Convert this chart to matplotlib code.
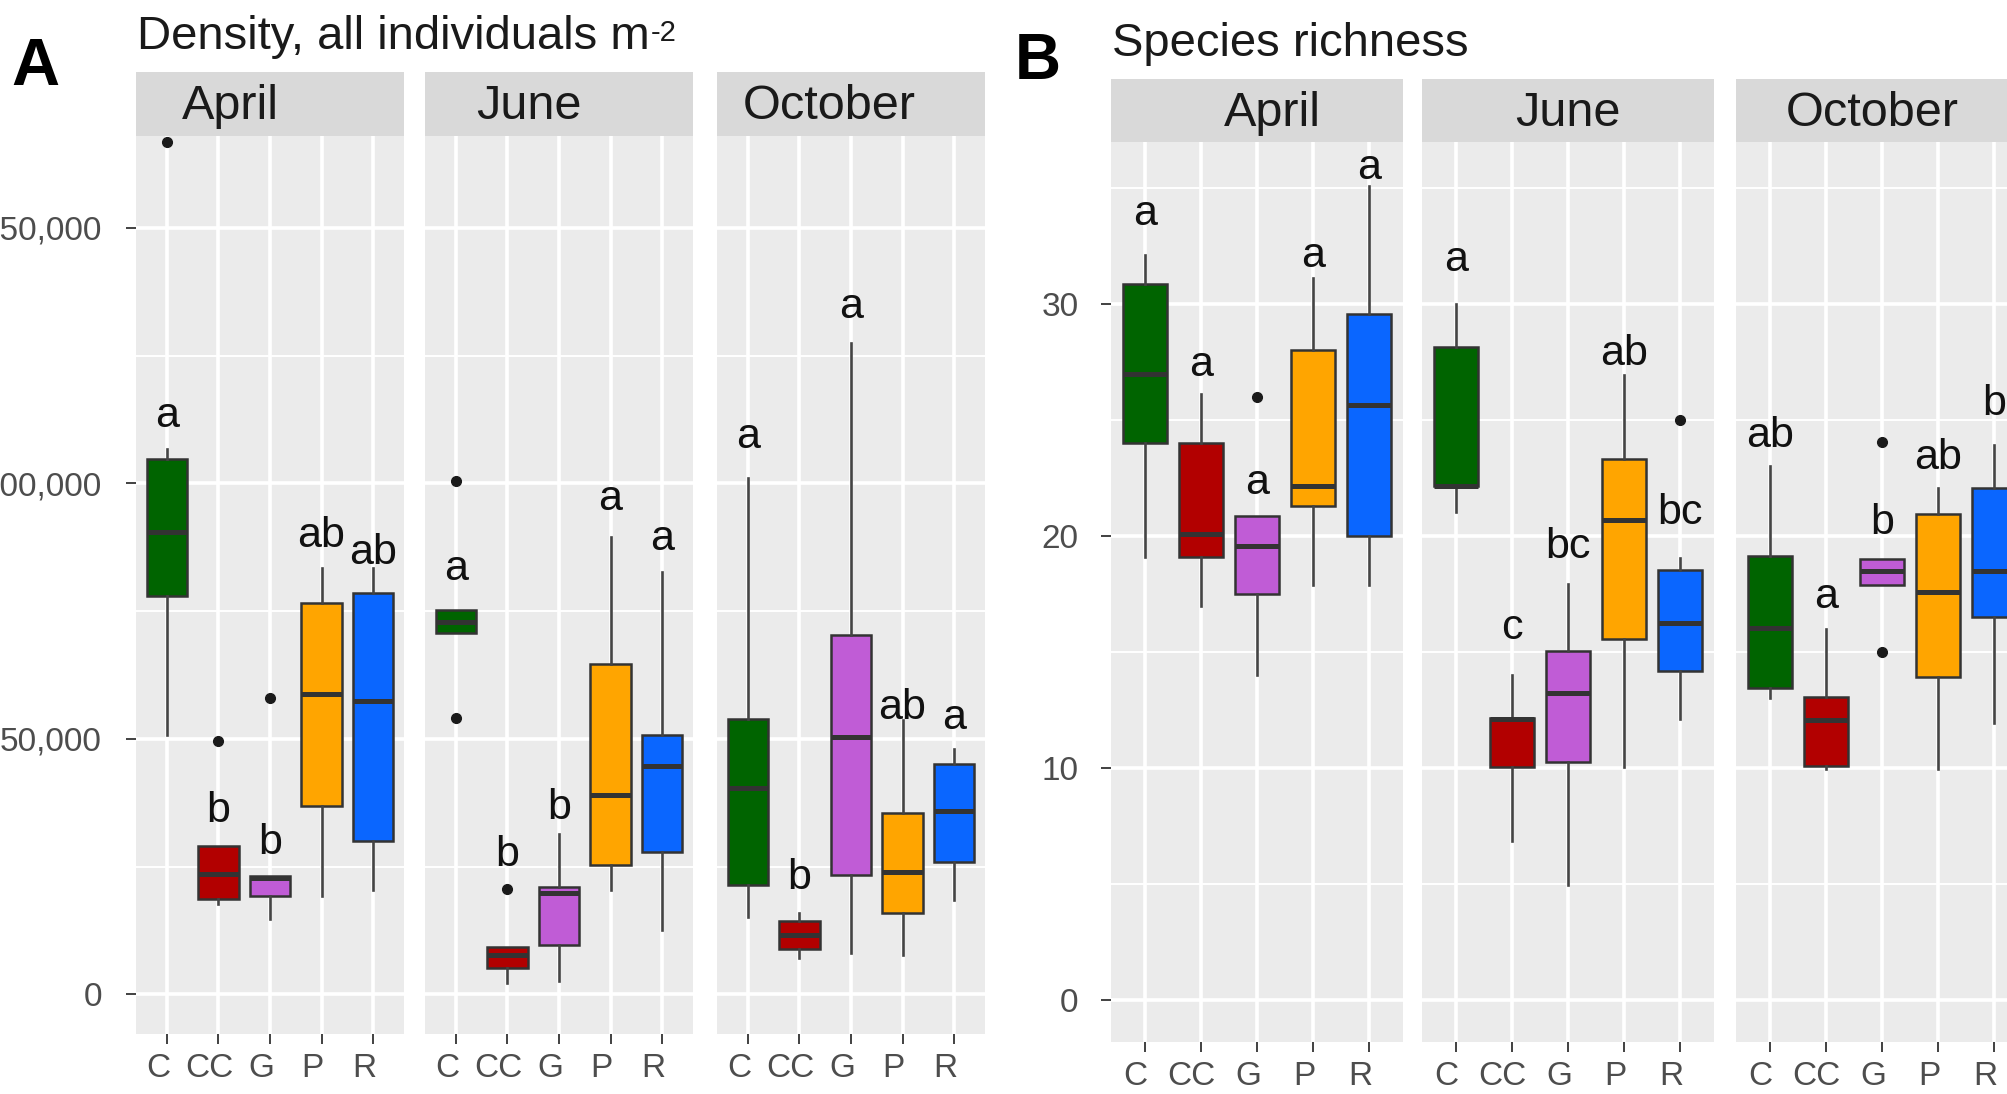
"""
Density and species richness by treatment and month (boxplots, ggplot look)
"""
import matplotlib
matplotlib.use('Agg')
from matplotlib import pyplot as plt
import matplotlib.transforms as mtransforms
from matplotlib.text import Annotation
from matplotlib.ticker import FixedLocator

plt.rcParams['font.family'] = ['Liberation Sans', 'DejaVu Sans']

# Data:
groups = ['C', 'CC', 'G', 'P', 'R']
months = ['April', 'June', 'October']
box_colours = ['#006400', '#B20000', '#C05CD6', '#FFA500', '#0A66FF']

# Density, all individuals m-2: (whisker low, q1, median, q3, whisker high)
dens_april = [(50800, 78000, 90500, 104800, 106700), (17800, 18600, 23500, 29000, 29000),
              (14700, 19300, 22700, 23200, 23200), (19300, 36900, 58800, 76700, 83400),
              (20500, 30100, 57500, 78600, 83400)]
dens_april_out = [[166900], [49700], [58000], [], []]
dens_april_let = ['a', 'b', 'b', 'ab', 'ab']
dens_april_lety = [111100, 33700, 27500, 87500, 84300]

dens_june = [(70700, 70700, 72800, 75300, 75300), (2200, 5200, 7800, 9300, 9300),
             (2600, 9600, 19800, 21100, 31500), (20400, 25400, 39000, 64700, 89600),
             (12600, 27800, 44800, 50700, 82600)]
dens_june_out = [[100500, 54100], [20700], [], [], []]
dens_june_let = ['a', 'b', 'b', 'a', 'a']
dens_june_lety = [81200, 25200, 34400, 94900, 87000]

dens_oct = [(15200, 21500, 40400, 53900, 101000), (7200, 8900, 11600, 14400, 15900),
            (8200, 23300, 50400, 70400, 127500), (7800, 15900, 23900, 35600, 53700),
            (18500, 25900, 35900, 45200, 48100)]
dens_oct_out = [[], [], [], [], []]
dens_oct_let = ['a', 'b', 'a', 'ab', 'a']
dens_oct_lety = [106900, 20700, 132300, 54000, 51900]

# Species richness: (whisker low, q1, median, q3, whisker high)
rich_april = [(19.1, 24.0, 27.0, 30.85, 32.1), (17.0, 19.1, 20.1, 24.0, 26.1),
              (14.0, 17.5, 19.55, 20.85, 20.85), (17.9, 21.3, 22.15, 28.0, 31.1),
              (17.9, 20.0, 25.65, 29.55, 35.1)]
rich_april_out = [[], [], [26.0], [], []]
rich_april_let = ['a', 'a', 'a', 'a', 'a']
rich_april_lety = [33.4, 26.9, 21.8, 31.6, 35.4]

rich_june = [(21.05, 22.15, 22.15, 28.15, 30.0), (6.85, 10.05, 12.1, 12.15, 14.0),
             (4.95, 10.25, 13.25, 15.05, 17.95), (10.05, 15.55, 20.7, 23.3, 26.95),
             (12.1, 14.2, 16.25, 18.55, 19.05)]
rich_june_out = [[], [], [], [], [25.0]]
rich_june_let = ['a', 'c', 'bc', 'ab', 'bc']
rich_june_lety = [31.4, 15.55, 19.05, 27.35, 20.5]

rich_oct = [(13.0, 13.45, 16.05, 19.15, 23.0), (9.95, 10.1, 12.05, 13.05, 16.0),
            (17.9, 17.9, 18.5, 19.0, 19.0), (9.95, 13.9, 17.6, 20.95, 22.05),
            (11.95, 16.5, 18.5, 22.05, 23.9)]
rich_oct_out = [[], [], [24.05, 15.0], [], []]
rich_oct_let = ['ab', 'a', 'b', 'ab', 'b']
rich_oct_lety = [23.85, 16.9, 20.1, 22.9, 25.2]

dens_ticks = [0, 50000, 100000, 150000]
dens_ticklabels = ['0', '50,000', '100,000', '150,000']
dens_minor = [25000, 75000, 125000]
rich_ticks = [0, 10, 20, 30]
rich_ticklabels = ['0', '10', '20', '30']
rich_minor = [5, 15, 25, 35]

# Figure (pixel layout of the 2008x1094 picture):
W, H = 2008, 1094
figure = plt.figure(figsize=(W / 100, H / 100), dpi=100)


def rect(x0, y0, x1, y1):
    return [x0 / W, 1 - y1 / H, (x1 - x0) / W, (y1 - y0) / H]


panelBg = '#EBEBEB'
stripBg = '#D9D9D9'
tickGrey = '#4D4D4D'


def draw_facet(x0, x1, top, bottom, strip_top, month, label_dx, stats, outs, lets, lety,
               ylim, ticks, ticklabels, minor, first, ypad):
    ax = figure.add_axes(rect(x0, top, x1, bottom))
    ax.set_facecolor(panelBg)
    for s in ax.spines.values():
        s.set_visible(False)
    bx = [dict(whislo=s[0], q1=s[1], med=s[2], q3=s[3], whishi=s[4], fliers=o)
          for s, o in zip(stats, outs)]
    bp = ax.bxp(bx, positions=range(1, 6), widths=0.78, patch_artist=True, showcaps=False,
                boxprops=dict(edgecolor='#333333', linewidth=1.8),
                medianprops=dict(color='#333333', linewidth=3.6, solid_capstyle='butt'),
                whiskerprops=dict(color='#444444', linewidth=1.9),
                flierprops=dict(marker='o', markerfacecolor='#1A1A1A', markeredgecolor='#1A1A1A',
                                markersize=7))
    for patch, c in zip(bp['boxes'], box_colours):
        patch.set_facecolor(c)
    for i, (l, y) in enumerate(zip(lets, lety)):
        ax.text(i + 1, y, l, ha='center', va='baseline', fontsize=31, color='#111111')
    ax.set_xlim(0.4, 5.6)
    ax.set_ylim(*ylim)
    ax.set_axisbelow(True)
    ax.xaxis.set_major_locator(FixedLocator(range(1, 6)))
    ax.set_xticklabels(groups)
    ax.yaxis.set_major_locator(FixedLocator(ticks))
    ax.yaxis.set_minor_locator(FixedLocator(minor))
    ax.grid(which='major', color='white', linewidth=2.6)
    ax.grid(which='minor', axis='y', color='white', linewidth=1.4)
    ax.tick_params(which='major', length=7.5, width=1.3, color='#333333', labelsize=24,
                   labelcolor=tickGrey)
    ax.tick_params(which='minor', length=0)
    ax.tick_params(axis='x', pad=6)
    offset = mtransforms.ScaledTranslation(-9 / 100, 0, figure.dpi_scale_trans)
    for lab in ax.get_xticklabels():
        lab.set_transform(lab.get_transform() + offset)
    if first:
        ax.set_yticklabels(ticklabels)
        ax.tick_params(axis='y', pad=ypad)
    else:
        ax.tick_params(axis='y', length=0, labelleft=False)

    # Facet strip:
    sx = figure.add_axes(rect(x0, strip_top, x1, top))
    sx.set_facecolor(stripBg)
    sx.set_xticks([])
    sx.set_yticks([])
    for s in sx.spines.values():
        s.set_visible(False)
    shift = mtransforms.ScaledTranslation(label_dx / 100, 0, figure.dpi_scale_trans)
    sx.text(0.5, 0.46, month, ha='center', va='center', fontsize=35, color='#1A1A1A',
            transform=sx.transAxes + shift)
    return ax


# Panel A:
dens_stats = [dens_april, dens_june, dens_oct]
dens_outs = [dens_april_out, dens_june_out, dens_oct_out]
dens_lets = [dens_april_let, dens_june_let, dens_oct_let]
dens_lety = [dens_april_lety, dens_june_lety, dens_oct_lety]
a_starts = [136, 425, 717]
a_dx = [-40, -30, -22]
for k in range(3):
    draw_facet(a_starts[k], a_starts[k] + 268, 136, 1034, 72, months[k], a_dx[k],
               dens_stats[k], dens_outs[k], dens_lets[k], dens_lety[k],
               (-7730, 168000), dens_ticks, dens_ticklabels, dens_minor, k == 0, 17)

# Panel B:
rich_stats = [rich_april, rich_june, rich_oct]
rich_outs = [rich_april_out, rich_june_out, rich_oct_out]
rich_lets = [rich_april_let, rich_june_let, rich_oct_let]
rich_lety = [rich_april_lety, rich_june_lety, rich_oct_lety]
b_starts = [1111, 1422, 1736]
b_dx = [15, 0, -10]
for k in range(3):
    draw_facet(b_starts[k], b_starts[k] + 292, 142, 1042, 79, months[k], b_dx[k],
               rich_stats[k], rich_outs[k], rich_lets[k], rich_lety[k],
               (-1.81, 36.98), rich_ticks, rich_ticklabels, rich_minor, k == 0, 16)

# Titles and panel letters:
title_a = figure.text(137 / W, 1 - 49 / H, 'Density, all individuals m', fontsize=34,
                      color='#1A1A1A', va='baseline', ha='left')
sup = Annotation('-2', xy=(1, 1), xycoords=title_a, xytext=(1, -3), textcoords='offset points',
                 fontsize=21, color='#1A1A1A', va='top', ha='left')
figure.add_artist(sup)
figure.text(1112 / W, 1 - 56 / H, 'Species richness', fontsize=34, color='#1A1A1A',
            va='baseline', ha='left')
figure.text(11 / W, 1 - 85 / H, 'A', fontsize=48, fontweight='bold', va='baseline', ha='left')
figure.text(1015 / W, 1 - 79 / H, 'B', fontsize=46, fontweight='bold', va='baseline', ha='left')

# Save plot:
plt.savefig('out.png', dpi=100)
